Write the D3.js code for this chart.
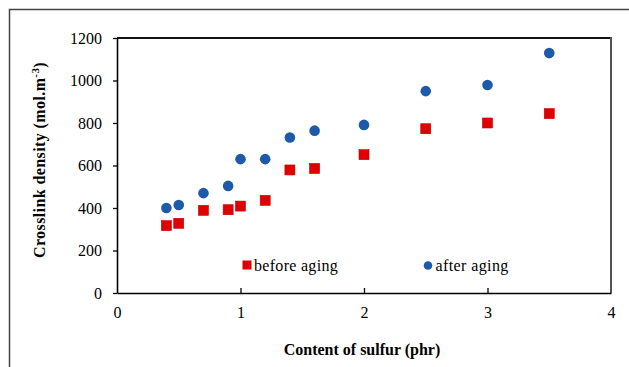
<!DOCTYPE html>
<html>
<head>
<meta charset="utf-8">
<script src="https://cdn.jsdelivr.net/npm/d3@7"></script>
<style>
  body { margin: 0; background: #fff; }
  svg { display: block; }
</style>
</head>
<body>
<svg width="629" height="367"></svg>
<script>
// Sulfur content (phr)
var sulfur = [0.4, 0.5, 0.7, 0.9, 1.0, 1.2, 1.4, 1.6, 2.0, 2.5, 3.0, 3.5];
// Crosslink density before and after aging
var beforeAging = [317, 328, 389, 392, 409, 436, 579, 586, 651, 773, 800, 844];
var afterAging = [400, 414, 470, 504, 630, 630, 732, 764, 791, 950, 979, 1129];
var xTicks = [0, 1, 2, 3, 4];
var yTicks = [0, 200, 400, 600, 800, 1000, 1200];

var serif = "'Liberation Serif', 'Times New Roman', serif";

var svg = d3.select('svg');

var margin = { top: 38, right: 18, bottom: 74, left: 117 };
var width = 629 - margin.left - margin.right;
var height = 367 - margin.top - margin.bottom;

// Outer frame (only left and top visible)
svg.append('path')
  .attr('d', 'M9.5,367 V9.5 H629')
  .attr('fill', 'none')
  .attr('stroke', '#444')
  .attr('stroke-width', 1.5);

var x = d3.scaleLinear().domain([0, 4]).range([0, width]);
var y = d3.scaleLinear().domain([0, 1200]).range([height, 0]);

var g = svg.append('g')
  .attr('transform', 'translate(' + margin.left + ',' + margin.top + ')');

// Plot area border: top and right
g.append('line')
  .attr('x1', 0).attr('x2', width)
  .attr('y1', 0).attr('y2', 0)
  .attr('stroke', '#111').attr('stroke-width', 2);
g.append('line')
  .attr('x1', width).attr('x2', width)
  .attr('y1', -1).attr('y2', height)
  .attr('stroke', '#555').attr('stroke-width', 2);

// Axes
var xAxis = g.append('g')
  .attr('transform', 'translate(0,' + height + ')')
  .call(d3.axisBottom(x).tickValues(xTicks).tickFormat(d3.format('d'))
    .tickSizeInner(-5).tickSizeOuter(0).tickPadding(14));
var yAxis = g.append('g')
  .call(d3.axisLeft(y).tickValues(yTicks).tickFormat(d3.format('d'))
    .tickSizeInner(4).tickSizeOuter(0).tickPadding(11));

[xAxis, yAxis].forEach(function (a) {
  a.select('.domain').attr('stroke', '#000').attr('stroke-width', 1.6);
  a.selectAll('.tick line').attr('stroke', '#000').attr('stroke-width', 1.3);
  a.selectAll('.tick text')
    .attr('fill', '#000')
    .style('font-family', serif)
    .style('font-size', '16px');
});
xAxis.selectAll('.tick').filter(function (d) { return d === 0 || d === 4; }).select('line').remove();

// Axis titles
svg.append('text')
  .attr('x', margin.left + x(2) - 2)
  .attr('y', 354.5)
  .attr('text-anchor', 'middle')
  .style('font-family', serif)
  .style('font-weight', 'bold')
  .style('font-size', '16px')
  .text('Content of sulfur (phr)');

var yTitle = svg.append('text')
  .attr('transform', 'translate(45,160) rotate(-90)')
  .attr('text-anchor', 'middle')
  .style('font-family', serif)
  .style('font-weight', 'bold')
  .style('font-size', '16px')
  .style('letter-spacing', '0.4px');
yTitle.append('tspan').text('Crosslink density (mol.m');
yTitle.append('tspan').attr('dy', -6).style('font-size', '11px').text('-3');
yTitle.append('tspan').attr('dy', 6).text(')');

var red = '#e00000';
var blue = '#1f5aa8';

// Before aging: red squares
g.selectAll('.before')
  .data(sulfur)
  .enter()
  .append('rect')
  .attr('class', 'before')
  .attr('x', function (d) { return x(d) - 5; })
  .attr('y', function (d, i) { return y(beforeAging[i]) - 5; })
  .attr('width', 10)
  .attr('height', 10)
  .attr('fill', red)
  .attr('stroke', '#c00000')
  .attr('stroke-width', 0.6);

// After aging: blue circles
g.selectAll('.after')
  .data(sulfur)
  .enter()
  .append('circle')
  .attr('class', 'after')
  .attr('cx', function (d) { return x(d); })
  .attr('cy', function (d, i) { return y(afterAging[i]); })
  .attr('r', 5.3)
  .attr('fill', blue);

// Legend
var legend = svg.append('g');
legend.append('rect')
  .attr('x', 242.5).attr('y', 260.5)
  .attr('width', 9).attr('height', 9)
  .attr('fill', red);
legend.append('text')
  .attr('x', 254).attr('y', 270.5)
  .style('font-family', serif)
  .style('font-size', '16px')
  .style('letter-spacing', '0.3px')
  .text('before aging');
legend.append('circle')
  .attr('cx', 428).attr('cy', 265.5).attr('r', 4.3)
  .attr('fill', blue);
legend.append('text')
  .attr('x', 435.5).attr('y', 270.5)
  .style('font-family', serif)
  .style('font-size', '16px')
  .style('letter-spacing', '0.4px')
  .text('after aging');
</script>
</body>
</html>
